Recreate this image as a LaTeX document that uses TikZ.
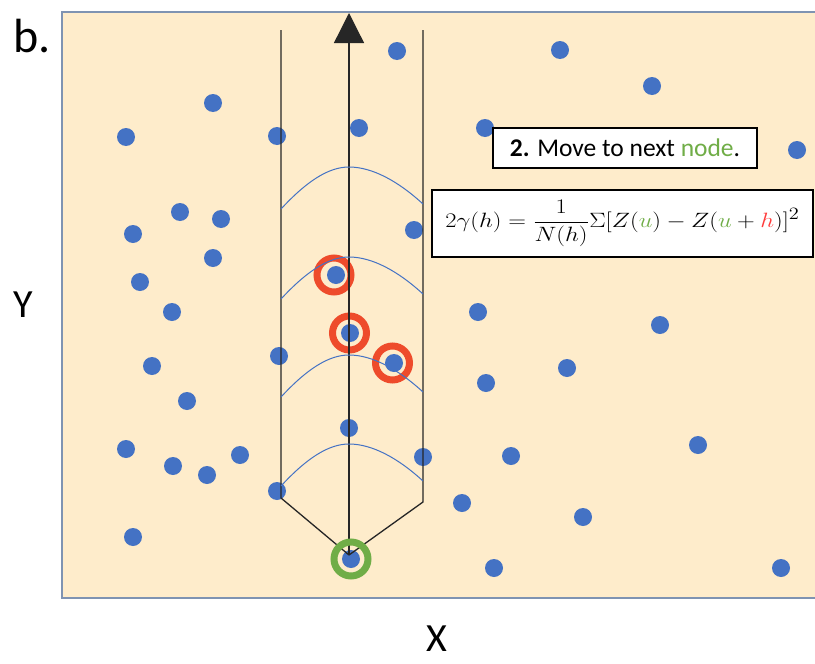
\documentclass[tikz,border=0pt]{standalone}
\usepackage{amsmath}
\usepackage{fontspec}
\setmainfont{Carlito}
\usetikzlibrary{positioning, arrows.meta}
\definecolor{cPanel}  {HTML}{FEECCB}
\definecolor{cFrame}  {HTML}{7F93B2}
\definecolor{cDot}    {HTML}{4472C4}
\definecolor{cPick}   {HTML}{EE4B2B}
\definecolor{cStart}  {HTML}{70AD47}
\definecolor{cLag}    {HTML}{FF3B3B}

\begin{document}
\begin{tikzpicture}[x=1pt, y=-1pt,
    dot/.style={fill=cDot},
    ring/.style={line width=7pt},
    lane/.style={line width=1.3pt, black!85},
    lagarc/.style={cDot, line width=1pt},
    infobox/.style={draw=black, line width=1.3pt, fill=white, inner sep=0pt},
    axislabel/.style={font=\fontsize{40}{40}\selectfont, inner sep=0pt},
  ]
  \useasboundingbox (0,0) rectangle (815,664);
  \draw[cFrame, line width=1.6pt, fill=cPanel] (62,12) rectangle (840,598);

  % sample points
  \foreach \px/\py in {397/51, 560/50, 652/86, 213/103, 126/137, 277/136,
      359/128, 485/128, 797/150, 180/212, 221/219, 133/234, 414/230,
      213/258, 140/282, 336/275, 172/312, 478/312, 660/325, 350/333,
      152/366, 279/356, 394/363, 567/368, 486/383, 187/401, 349/428,
      126/449, 240/455, 423/457, 511/456, 698/445, 173/466, 207/475,
      277/491, 462/503, 583/517, 133/537, 351/559, 494/568, 781/568}
    \fill[dot] (\px,\py) circle[radius=9pt];

  % lag neighbours
  \foreach \px/\py in {334/275, 349.5/333, 392.5/363}
    \draw[cPick, ring] (\px,\py) circle[radius=17pt];

  % search lane
  \coordinate (origin) at (349,555);
  \coordinate (tip) at (349,13);
  \coordinate (laneLtop) at (281,30);
  \coordinate (laneLbot) at (281,498);
  \coordinate (laneRtop) at (423,30);
  \coordinate (laneRbot) at (423,502);
  \draw[lane] (laneLtop) -- (laneLbot) -- (origin);
  \draw[lane] (laneRtop) -- (laneRbot) -- (origin);
  \draw[lane, -{Triangle[length=30pt, width=30pt]}] (origin) -- (tip);

  \foreach \t in {167, 257, 355, 444}
    \draw[lagarc] (281,\t+42) .. controls (306,\t+15) and (328,\t) .. (349,\t)
      .. controls (372,\t) and (398,\t+14) .. (423,\t+37);

  \draw[cStart, ring] (351,559) circle[radius=17pt];

  \node[font=\fontsize{48}{48}\selectfont, inner sep=0pt] (panel) at (32,36) {b.};
  \node[axislabel] (ylab) at (23,305) {Y};
  \node[axislabel] (xlab) at (437,639) {X};

  \node[infobox, minimum width=264pt, minimum height=40pt,
        font=\fontsize{25.5}{25.5}\selectfont] (stepnote) at (625,148)
        {\textbf{2.} Move to next \textcolor{cStart}{node}.};
  \node[infobox, minimum width=381pt, minimum height=67pt,
        font=\fontsize{19}{19}\selectfont] (vario) at (622.5,223.5)
        {\scalebox{1.42}[1.2]{$2\gamma(h) = \dfrac{1}{N(h)}\Sigma[Z(\textcolor{cStart}{u}) - Z(\textcolor{cStart}{u} + \textcolor{cLag}{h})]^2$}};
\end{tikzpicture}
\end{document}
